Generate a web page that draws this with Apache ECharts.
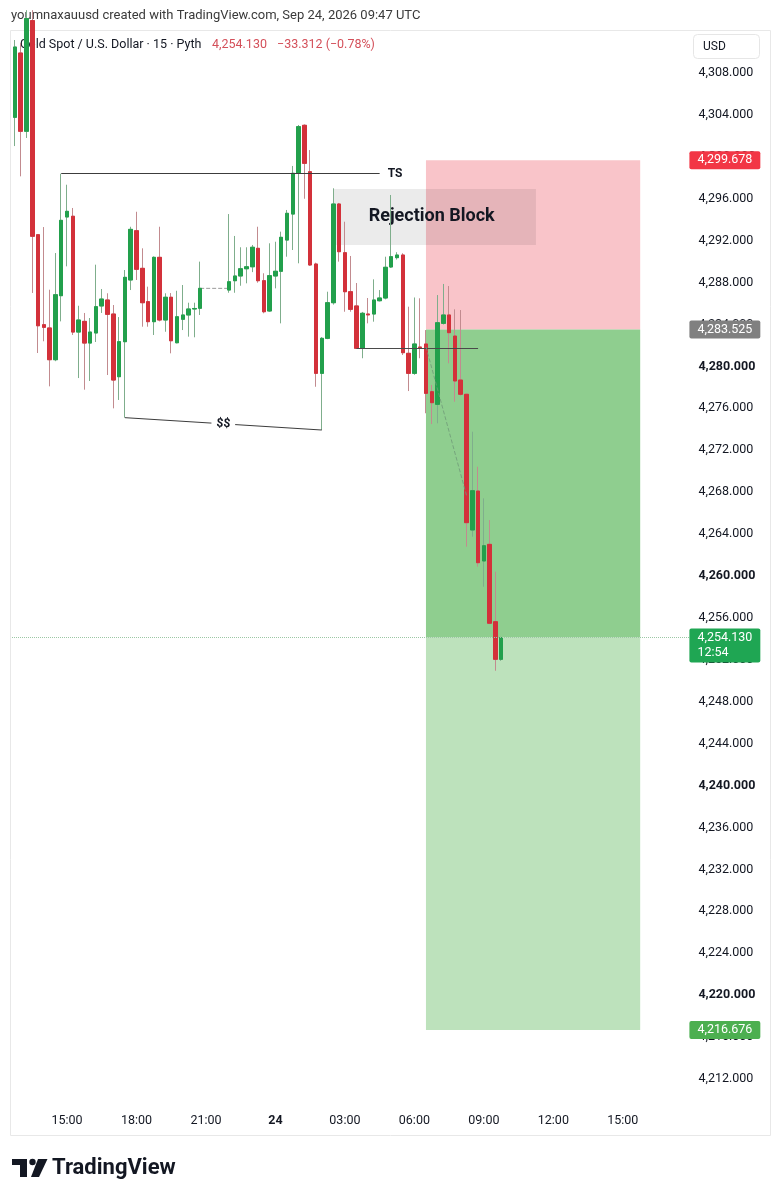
<!DOCTYPE html>
<html><head><meta charset="utf-8">
<script src="https://cdn.jsdelivr.net/npm/echarts@6/dist/echarts.min.js"></script>
<style>html,body{margin:0;padding:0;background:#fff}#c{width:776px;height:1200px}</style>
</head><body><div id="c"></div>
<script>
// ---------- data (15-minute bars, Sep 23 12:45 -> Sep 24 09:45 UTC) ----------
const firstBar = '09-23 12:45';
const opens = [4303.77,4309.91,4302.44,4313.00,4292.57,4283.98,4283.67,4280.64,4286.75,4294.26,
  4294.33,4283.28,4284.30,4282.23,4283.19,4285.77,4286.34,4285.00,4279.02,4282.36,
  4288.25,4292.95,4289.36,4286.18,4284.27,4290.41,4284.43,4286.60,4282.26,4284.50,
  4284.91,4285.48,4285.55,null,null,null,null,4287.29,4288.18,4288.63,
  4289.32,4289.51,4291.27,4288.18,4285.29,4288.63,4289.08,4292.06,4294.54,4298.46,
  4303.01,4298.58,4289.77,4279.34,4282.68,4286.08,4295.50,4290.85,4287.13,4285.77,
  4281.73,4285.00,4285.00,4286.27,4286.53,4289.49,4290.38,4290.63,4281.25,4279.34,
  4281.85,4282.14,4277.59,4276.38,4284.11,4284.91,4282.90,4278.70,4277.34,4264.39,
  4268.11,4261.43,4263.02,4255.64,4252.05];
const closes = [4310.48,4302.44,4313.20,4292.42,4283.88,4283.73,4280.64,4286.84,4293.94,4294.80,
  4283.28,4284.43,4282.23,4283.28,4285.70,4286.43,4284.97,4278.70,4282.36,4288.50,
  4293.08,4289.27,4286.08,4284.27,4290.41,4284.43,4286.60,4282.45,4284.74,4284.91,
  4285.48,4285.53,4287.45,null,null,null,null,4288.08,4288.63,4289.32,
  4289.51,4291.37,4288.18,4285.22,4288.66,4289.08,4292.32,4294.61,4298.43,4302.88,
  4299.38,4289.68,4279.34,4282.68,4286.08,4295.50,4290.95,4287.13,4285.45,4281.73,
  4285.07,4284.92,4286.34,4286.53,4289.46,4290.47,4290.63,4281.31,4279.34,4282.14,
  4281.80,4277.43,4276.54,4284.17,4284.91,4283.22,4278.61,4277.34,4265.09,4268.14,
  4261.27,4262.89,4255.49,4252.05,4254.13];
const lows = [4301.03,4298.14,4301.80,4287.01,4281.28,4282.40,4278.10,4280.50,4284.30,4289.55,
  4283.00,4278.89,4277.78,4278.61,4282.33,4285.10,4279.18,4276.00,4276.80,4275.11,
  4287.29,4288.25,4283.79,4283.79,4283.00,4284.30,4283.31,4281.25,4282.20,4283.47,
  4282.84,4282.78,4284.91,null,null,null,null,4287.03,4287.03,4287.70,
  4287.93,4289.00,4287.99,4285.07,4285.20,4287.45,4284.11,4290.47,4291.11,4289.84,
  4296.00,4289.60,4278.06,4273.93,4282.60,4285.90,4290.00,4285.22,4285.22,4281.70,
  4280.78,4284.11,4284.27,4286.20,4286.40,4289.40,4290.20,4281.09,4277.65,4279.20,
  4280.78,4275.53,4274.50,4274.57,4284.00,4280.30,4276.63,4277.20,4262.80,4263.75,
  4260.89,4258.98,4255.40,4250.96,4251.90];
const highs = [4311.15,4310.86,4314.00,4314.00,4292.60,4293.30,4287.32,4290.82,4298.39,4297.34,
  4295.12,4285.79,4285.10,4284.62,4289.71,4287.39,4286.98,4285.86,4284.71,4289.20,
  4293.33,4294.76,4291.27,4287.61,4290.50,4293.33,4286.98,4287.00,4287.22,4287.77,
  4286.08,4286.08,4290.00,null,null,null,null,4294.54,4292.45,4291.37,
  4291.37,4291.59,4293.33,4288.89,4291.75,4291.90,4292.86,4294.93,4299.13,4303.04,
  4303.10,4300.65,4289.90,4282.80,4287.13,4297.00,4295.60,4293.81,4290.54,4287.96,
  4285.20,4286.53,4288.31,4287.29,4290.47,4296.36,4290.90,4290.80,4285.70,4286.58,
  4286.50,4283.47,4278.23,4286.81,4287.87,4287.67,4285.45,4285.38,4277.40,4273.77,
  4270.43,4267.41,4265.34,4260.41,4254.20];
// market-closed bars drawn as a dashed flat line
const gapTimes = ['09-23 20:45','09-23 21:00','09-23 21:15','09-23 21:30','09-23 21:45','09-23 22:00'];
const gapPrice = 4287.45;
// x-axis tick labels
const tickTimes = ['15:00','18:00','21:00','00:00','03:00','06:00','09:00','12:00','15:00'];
// position tool + drawings
const stopPrice = 4299.678, entryPrice = 4283.525, targetPrice = 4216.676, lastPrice = 4254.13;
const countdown = '12:54';
const changeText = '\u221233.312 (\u22120.78%)';
const positionStart = '09-24 06:30', positionEnd = '09-24 15:45';
const rejectionBlock = {from:'09-24 02:30', to:'09-24 11:15', top:4296.93, bottom:4291.59, text:'Rejection Block'};
const tsLine = {from:'09-23 14:45', to:'09-24 04:30', price:4298.39, text:'TS'};
const ssLine = {from:'09-23 17:30', fromPrice:4275.11, to:'09-24 02:00', toPrice:4273.93, text:'$$'};
const flatLine = {from:'09-24 03:30', to:'09-24 08:45', price:4281.73};
const dashLine = {from:'09-24 06:30', fromPrice:4281.87, to:'09-24 08:15', toPrice:4267.70};

// ---------- axis categories ----------
const axisCats = [];
(function(){
  const start = 12*60+45;
  for (let k = 0; k < 117; k++) {
    const t = start + k*15, day = 23 + Math.floor(t/1440), m = t % 1440;
    axisCats.push('09-' + day + ' ' + String(Math.floor(m/60)).padStart(2,'0') + ':' + String(m%60).padStart(2,'0'));
  }
})();
const barCats = axisCats.slice(axisCats.indexOf(firstBar), axisCats.indexOf(firstBar) + opens.length);

function fmt(v){
  const s = v.toFixed(3).split('.');
  return s[0].replace(/\B(?=(\d{3})+(?!\d))/g, ',') + '.' + s[1];
}

const UP = '#22a04c', DOWN = '#d3313a';
const wickData = opens.map((o,i)=> o==null ? '-' : [o, closes[i], lows[i], highs[i]]);
const bodyData = opens.map((o,i)=> o==null ? '-' : [o, closes[i], Math.min(o,closes[i]), Math.max(o,closes[i])]);
const gapData = barCats.map(c => gapTimes.indexOf(c) >= 0 ? gapPrice : '-');

const FONT = 'Roboto';
const tagLabel = (bg, txt) => ({show:true, position:'end', distance:0, formatter: txt, color:'#fff',
  backgroundColor:bg, padding:[3,8,2,8], fontSize:12.5, fontFamily:FONT, borderRadius:2});
const hiddenLine = {color:'rgba(0,0,0,0)', width:1, type:'solid'};

const option = {
  animation:false,
  backgroundColor:'#ffffff',
  textStyle:{fontFamily:FONT},
  grid:[
    {left:12, right:86.6, top:31.1, bottom:79.1, outerBoundsMode:'none', containLabel:false},
    {left:12, right:86.6, top:1100, height:6, outerBoundsMode:'none', containLabel:false}
  ],
  xAxis:[
    {type:'category', gridIndex:0, data:axisCats, show:false, boundaryGap:true},
    {type:'category', gridIndex:1, data:axisCats, boundaryGap:true,
     axisLine:{show:false}, axisTick:{show:false}, splitLine:{show:false},
     axisLabel:{show:true, margin:8, color:'#131722', fontSize:12.5, fontFamily:FONT,
       interval:(idx, val)=> tickTimes.indexOf(val.slice(6)) >= 0,
       formatter:(val)=>{ const t = val.slice(6); return t === '00:00' ? '{b|24}' : t; },
       rich:{b:{fontWeight:'bold', fontSize:12.5, color:'#131722', fontFamily:FONT}}}}
  ],
  yAxis:[
    {type:'value', gridIndex:0, position:'right', min:4208, max:4312, interval:4,
     axisLine:{show:false}, axisTick:{show:false}, splitLine:{show:false},
     axisLabel:{margin:9, color:'#131722', fontSize:12.5, fontFamily:FONT,
       formatter:(v)=>{ if (v===4208 || v===4312) return ''; const s = fmt(v); return v % 20 === 0 ? '{b|'+s+'}' : s; },
       rich:{b:{fontWeight:'bold', fontSize:12.5, color:'#131722', fontFamily:FONT}}}},
    {type:'value', gridIndex:1, show:false}
  ],
  series:[
    { // zones
      type:'line', xAxisIndex:0, yAxisIndex:0, data:[], z:1, silent:true,
      markArea:{silent:true, data:[
        [{xAxis:positionStart, yAxis:stopPrice, itemStyle:{color:'#f9c4c9'}}, {xAxis:positionEnd, yAxis:entryPrice}],
        [{xAxis:positionStart, yAxis:entryPrice, itemStyle:{color:'#8fce8f'}}, {xAxis:positionEnd, yAxis:lastPrice}],
        [{xAxis:positionStart, yAxis:lastPrice, itemStyle:{color:'#bde2bc'}}, {xAxis:positionEnd, yAxis:targetPrice}],
        [{xAxis:rejectionBlock.from, yAxis:rejectionBlock.top, itemStyle:{color:'rgba(0,0,0,0.08)'},
          label:{show:true, position:'inside', offset:[-3,0], formatter:rejectionBlock.text, fontSize:18, fontWeight:'bold', color:'#131722', fontFamily:FONT}},
         {xAxis:rejectionBlock.to, yAxis:rejectionBlock.bottom}]
      ]}
    },
    {type:'line', xAxisIndex:0, yAxisIndex:0, data:gapData, z:2, symbol:'none', silent:true,
     lineStyle:{type:'dashed', color:'#9a9a9a', width:1}},
    {type:'candlestick', xAxisIndex:0, yAxisIndex:0, data:wickData, z:3, barWidth:4, silent:true,
     itemStyle:{color:UP, color0:DOWN, borderColor:'#7fae8c', borderColor0:'#c28b8f', borderWidth:1}},
    {type:'candlestick', xAxisIndex:0, yAxisIndex:0, data:bodyData, z:4, barWidth:4, silent:true,
     itemStyle:{color:UP, color0:DOWN, borderColor:UP, borderColor0:DOWN, borderWidth:1}},
    { // drawings and price tags
      type:'line', xAxisIndex:0, yAxisIndex:0, data:[], z:6, silent:true,
      markLine:{silent:true, symbol:['none','none'], animation:false, data:[
        [{coord:[tsLine.from, tsLine.price], lineStyle:{color:'#3c3c3c', width:1, type:'solid'},
          label:{show:true, position:'end', distance:8, formatter:tsLine.text, fontWeight:'bold', fontSize:12, color:'#131722', fontFamily:FONT}},
         {coord:[tsLine.to, tsLine.price]}],
        [{coord:[ssLine.from, ssLine.fromPrice], lineStyle:{color:'#3c3c3c', width:1, type:'solid'},
          label:{show:true, position:'middle', distance:0, verticalAlign:'middle', formatter:ssLine.text, fontWeight:'bold', fontSize:12, color:'#131722', backgroundColor:'#fff', padding:[1,5], fontFamily:FONT}},
         {coord:[ssLine.to, ssLine.toPrice]}],
        [{coord:[flatLine.from, flatLine.price], lineStyle:{color:'#4a4a4a', width:1, type:'solid'}, label:{show:false}},
         {coord:[flatLine.to, flatLine.price]}],
        [{coord:[dashLine.from, dashLine.fromPrice], lineStyle:{color:'#6f9a78', width:1, type:'dashed', opacity:0.8}, label:{show:false}},
         {coord:[dashLine.to, dashLine.toPrice]}],
        {yAxis:stopPrice, lineStyle:hiddenLine, label:tagLabel('#f23645', fmt(stopPrice))},
        {yAxis:entryPrice, lineStyle:hiddenLine, label:tagLabel('#808080', fmt(entryPrice))},
        {yAxis:targetPrice, lineStyle:hiddenLine, label:tagLabel('#4caf50', fmt(targetPrice))},
        {yAxis:lastPrice, lineStyle:{type:'dotted', color:'#9cc7a5', width:1},
         label:{show:true, position:'end', distance:0, offset:[0,8],
           formatter:'{a|'+fmt(lastPrice)+'}\n{a|'+countdown+'}',
           backgroundColor:'#1fa653', padding:[2,8,2,8], borderRadius:2,
           rich:{a:{color:'#fff', fontSize:12.5, fontFamily:FONT, lineHeight:15}}}}
      ]}
    }
  ],
  graphic:[
    {type:'rect', z:-10, silent:true, shape:{x:10.5, y:30.5, width:760, height:1105}, style:{fill:'none', stroke:'#e8e8e8', lineWidth:1}},
    {type:'text', z:0, x:11, y:16, style:{text:'youmnaxauusd created with TradingView.com, Sep 24, 2026 09:47 UTC', fontSize:13, fontFamily:FONT, fill:'#3a3a3a', verticalAlign:'middle'}},
    {type:'text', z:0, x:20, y:45, style:{text:'Gold Spot / U.S. Dollar \u00b7 15 \u00b7 Pyth', fontSize:12.5, fontFamily:FONT, fill:'#131722', verticalAlign:'middle'}},
    {type:'text', z:0, x:212, y:45, style:{text:fmt(lastPrice), fontSize:12.5, fontFamily:FONT, fill:'#d4505a', verticalAlign:'middle'}},
    {type:'text', z:0, x:277, y:45, style:{text:changeText, fontSize:12.5, fontFamily:FONT, fill:'#d4505a', verticalAlign:'middle'}},
    {type:'rect', z:0, shape:{x:693.5, y:34.5, width:66, height:24, r:4}, style:{fill:'#fff', stroke:'#e6e6e6', lineWidth:1}},
    {type:'text', z:1, x:703, y:46.5, style:{text:'USD', fontSize:12, fontFamily:FONT, fill:'#131722', verticalAlign:'middle'}},
    // TradingView logo
    {type:'rect', z:0, shape:{x:12, y:1159, width:15, height:6}, style:{fill:'#131722'}},
    {type:'rect', z:0, shape:{x:20, y:1159, width:7, height:18}, style:{fill:'#131722'}},
    {type:'circle', z:0, shape:{cx:32.5, cy:1162, r:3.2}, style:{fill:'#131722'}},
    {type:'polygon', z:0, shape:{points:[[38,1159],[47.5,1159],[39,1177],[31,1177]]}, style:{fill:'#131722'}},
    {type:'text', z:0, x:52, y:1168, style:{text:'TradingView', fontSize:22, fontWeight:'bold', fontFamily:FONT, fill:'#131722', verticalAlign:'middle'}}
  ]
};
const chart = echarts.init(document.getElementById('c'), null, {renderer:'canvas', width:776, height:1200});
chart.setOption(option);
</script></body></html>
